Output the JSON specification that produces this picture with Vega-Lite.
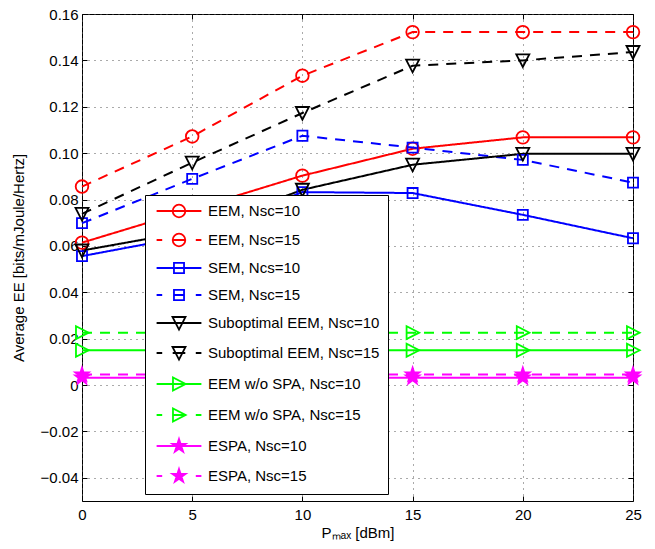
{
  "$schema": "https://vega.github.io/schema/vega-lite/v6.json",
  "autosize": "none",
  "width": 551,
  "height": 487,
  "padding": {"left": 82, "top": 14, "right": 22, "bottom": 48},
  "background": "#ffffff",
  "config": {
    "font": "Liberation Sans",
    "view": {"stroke": "#000000", "strokeWidth": 1},
    "axis": {
      "labelFont": "Liberation Sans",
      "labelFontSize": 15,
      "labelColor": "#000000",
      "labelFlush": false,
      "titleFont": "Liberation Sans",
      "titleFontSize": 15,
      "titleFontWeight": "normal",
      "titleColor": "#000000",
      "tickColor": "#000000",
      "tickSize": -5,
      "domain": false
    },
    "legend": {
      "orient": "none",
      "legendX": 63,
      "legendY": 181,
      "padding": 8,
      "strokeColor": "#000000",
      "fillColor": "#ffffff",
      "symbolSize": 196,
      "symbolStrokeWidth": 1.8,
      "symbolOffset": 18,
      "labelOffset": 21,
      "labelFont": "Liberation Sans",
      "labelFontSize": 15,
      "labelColor": "#000000",
      "labelLimit": 0,
      "rowPadding": 9,
      "symbolOpacity": 1
    }
  },
  "data": {
    "values": [
      {"P": 0, "EE": 0.0614, "s": "EEM, Nsc=10"},
      {"P": 5, "EE": 0.0758, "s": "EEM, Nsc=10"},
      {"P": 10, "EE": 0.0903, "s": "EEM, Nsc=10"},
      {"P": 15, "EE": 0.1019, "s": "EEM, Nsc=10"},
      {"P": 20, "EE": 0.1068, "s": "EEM, Nsc=10"},
      {"P": 25, "EE": 0.1068, "s": "EEM, Nsc=10"},
      {"P": 0, "EE": 0.0856, "s": "EEM, Nsc=15"},
      {"P": 5, "EE": 0.1072, "s": "EEM, Nsc=15"},
      {"P": 10, "EE": 0.1334, "s": "EEM, Nsc=15"},
      {"P": 15, "EE": 0.1522, "s": "EEM, Nsc=15"},
      {"P": 20, "EE": 0.1522, "s": "EEM, Nsc=15"},
      {"P": 25, "EE": 0.1522, "s": "EEM, Nsc=15"},
      {"P": 0, "EE": 0.0556, "s": "SEM, Ncs=10"},
      {"P": 5, "EE": 0.0645, "s": "SEM, Ncs=10"},
      {"P": 10, "EE": 0.0832, "s": "SEM, Ncs=10"},
      {"P": 15, "EE": 0.0828, "s": "SEM, Ncs=10"},
      {"P": 20, "EE": 0.0734, "s": "SEM, Ncs=10"},
      {"P": 25, "EE": 0.0633, "s": "SEM, Ncs=10"},
      {"P": 0, "EE": 0.0698, "s": "SEM, Nsc=15"},
      {"P": 5, "EE": 0.0889, "s": "SEM, Nsc=15"},
      {"P": 10, "EE": 0.1075, "s": "SEM, Nsc=15"},
      {"P": 15, "EE": 0.1024, "s": "SEM, Nsc=15"},
      {"P": 20, "EE": 0.0971, "s": "SEM, Nsc=15"},
      {"P": 25, "EE": 0.0873, "s": "SEM, Nsc=15"},
      {"P": 0, "EE": 0.0580, "s": "Suboptimal EEM, Nsc=10"},
      {"P": 5, "EE": 0.0665, "s": "Suboptimal EEM, Nsc=10"},
      {"P": 10, "EE": 0.0842, "s": "Suboptimal EEM, Nsc=10"},
      {"P": 15, "EE": 0.0950, "s": "Suboptimal EEM, Nsc=10"},
      {"P": 20, "EE": 0.0997, "s": "Suboptimal EEM, Nsc=10"},
      {"P": 25, "EE": 0.0997, "s": "Suboptimal EEM, Nsc=10"},
      {"P": 0, "EE": 0.0738, "s": "Suboptimal EEM, Nsc=15"},
      {"P": 5, "EE": 0.0959, "s": "Suboptimal EEM, Nsc=15"},
      {"P": 10, "EE": 0.1173, "s": "Suboptimal EEM, Nsc=15"},
      {"P": 15, "EE": 0.1377, "s": "Suboptimal EEM, Nsc=15"},
      {"P": 20, "EE": 0.1400, "s": "Suboptimal EEM, Nsc=15"},
      {"P": 25, "EE": 0.1436, "s": "Suboptimal EEM, Nsc=15"},
      {"P": 0, "EE": 0.0150, "s": "EEM w/o SPA, Nsc=10"},
      {"P": 5, "EE": 0.0150, "s": "EEM w/o SPA, Nsc=10"},
      {"P": 10, "EE": 0.0150, "s": "EEM w/o SPA, Nsc=10"},
      {"P": 15, "EE": 0.0150, "s": "EEM w/o SPA, Nsc=10"},
      {"P": 20, "EE": 0.0150, "s": "EEM w/o SPA, Nsc=10"},
      {"P": 25, "EE": 0.0150, "s": "EEM w/o SPA, Nsc=10"},
      {"P": 0, "EE": 0.0226, "s": "EEM w/o SPA, Nsc=15"},
      {"P": 5, "EE": 0.0226, "s": "EEM w/o SPA, Nsc=15"},
      {"P": 10, "EE": 0.0226, "s": "EEM w/o SPA, Nsc=15"},
      {"P": 15, "EE": 0.0226, "s": "EEM w/o SPA, Nsc=15"},
      {"P": 20, "EE": 0.0226, "s": "EEM w/o SPA, Nsc=15"},
      {"P": 25, "EE": 0.0226, "s": "EEM w/o SPA, Nsc=15"},
      {"P": 0, "EE": 0.0032, "s": "ESPA, Nsc=10"},
      {"P": 5, "EE": 0.0032, "s": "ESPA, Nsc=10"},
      {"P": 10, "EE": 0.0032, "s": "ESPA, Nsc=10"},
      {"P": 15, "EE": 0.0032, "s": "ESPA, Nsc=10"},
      {"P": 20, "EE": 0.0032, "s": "ESPA, Nsc=10"},
      {"P": 25, "EE": 0.0032, "s": "ESPA, Nsc=10"},
      {"P": 0, "EE": 0.0045, "s": "ESPA, Nsc=15"},
      {"P": 5, "EE": 0.0045, "s": "ESPA, Nsc=15"},
      {"P": 10, "EE": 0.0045, "s": "ESPA, Nsc=15"},
      {"P": 15, "EE": 0.0045, "s": "ESPA, Nsc=15"},
      {"P": 20, "EE": 0.0045, "s": "ESPA, Nsc=15"},
      {"P": 25, "EE": 0.0045, "s": "ESPA, Nsc=15"}
    ]
  },
  "layer": [
    {
      "mark": {"type": "line", "strokeWidth": 2},
      "encoding": {
        "x": {
          "field": "P", "type": "quantitative",
          "scale": {"domain": [0, 25], "nice": false, "zero": false},
          "axis": {
            "orient": "bottom",
            "values": [0, 5, 10, 15, 20, 25],
            "grid": true, "gridColor": "#555555", "gridDash": [1, 5], "gridWidth": 1,
            "labelPadding": 11,
            "title": "Pₘₐₓ [dBm]",
            "titlePadding": 3
          }
        },
        "y": {
          "field": "EE", "type": "quantitative",
          "scale": {"domain": [-0.05, 0.16], "nice": false, "zero": false},
          "axis": {
            "orient": "left",
            "values": [-0.04, -0.02, 0, 0.02, 0.04, 0.06, 0.08, 0.1, 0.12, 0.14, 0.16],
            "labelExpr": "datum.value == 0 ? '0' : format(datum.value, '.2f')",
            "grid": true, "gridColor": "#555555", "gridDash": [1, 5], "gridWidth": 1,
            "labelPadding": 9,
            "title": "Average EE [bits/mJoule/Hertz]",
            "titlePadding": 14
          }
        },
        "color": {
          "field": "s", "type": "nominal", "legend": null,
          "scale": {
            "domain": ["EEM, Nsc=10","EEM, Nsc=15","SEM, Ncs=10","SEM, Nsc=15","Suboptimal EEM, Nsc=10","Suboptimal EEM, Nsc=15","EEM w/o SPA, Nsc=10","EEM w/o SPA, Nsc=15","ESPA, Nsc=10","ESPA, Nsc=15"],
            "range": ["#ff0000","#ff0000","#0000ff","#0000ff","#000000","#000000","#00ff00","#00ff00","#ff00ff","#ff00ff"]
          }
        },
        "strokeDash": {
          "field": "s", "type": "nominal", "legend": null,
          "scale": {
            "domain": ["EEM, Nsc=10","EEM, Nsc=15","SEM, Ncs=10","SEM, Nsc=15","Suboptimal EEM, Nsc=10","Suboptimal EEM, Nsc=15","EEM w/o SPA, Nsc=10","EEM w/o SPA, Nsc=15","ESPA, Nsc=10","ESPA, Nsc=15"],
            "range": [[1,0],[10,8],[1,0],[10,8],[1,0],[10,8],[1,0],[10,8],[1,0],[10,8]]
          }
        }
      }
    },
    {
      "mark": {"type": "point", "filled": false, "size": 196, "strokeWidth": 1.8, "opacity": 1},
      "encoding": {
        "x": {"field": "P", "type": "quantitative", "axis": null},
        "y": {"field": "EE", "type": "quantitative", "axis": null},
        "color": {"field": "s", "type": "nominal", "legend": null},
        "fill": {
          "condition": {"test": "indexof(datum.s, 'ESPA') === 0", "value": "#ff00ff"},
          "value": "transparent"
        },
        "shape": {
          "field": "s", "type": "nominal", "legend": null,
          "scale": {
            "domain": ["EEM, Nsc=10","EEM, Nsc=15","SEM, Ncs=10","SEM, Nsc=15","Suboptimal EEM, Nsc=10","Suboptimal EEM, Nsc=15","EEM w/o SPA, Nsc=10","EEM w/o SPA, Nsc=15","ESPA, Nsc=10","ESPA, Nsc=15"],
            "range": [
              "M-0.9,0A0.9,0.9 0 1,0 0.9,0A0.9,0.9 0 1,0 -0.9,0Z",
              "M-0.9,0A0.9,0.9 0 1,0 0.9,0A0.9,0.9 0 1,0 -0.9,0Z",
              "M-0.72,-0.72H0.72V0.72H-0.72Z",
              "M-0.72,-0.72H0.72V0.72H-0.72Z",
              "M-0.93,-0.86H0.93L0,0.95Z",
              "M-0.93,-0.86H0.93L0,0.95Z",
              "M-0.86,-0.93V0.93L0.95,0Z",
              "M-0.86,-0.93V0.93L0.95,0Z",
              "M0,-1L0.2245,-0.309L0.951,-0.309L0.363,0.118L0.588,0.809L0,0.382L-0.588,0.809L-0.363,0.118L-0.951,-0.309L-0.2245,-0.309Z",
              "M0,-1L0.2245,-0.309L0.951,-0.309L0.363,0.118L0.588,0.809L0,0.382L-0.588,0.809L-0.363,0.118L-0.951,-0.309L-0.2245,-0.309Z"
            ]
          }
        }
      }
    },
    {
      "mark": {"type": "point", "filled": false, "size": 196, "strokeWidth": 1.8, "opacity": 0},
      "encoding": {
        "x": {
          "field": "P", "type": "quantitative",
          "axis": {"orient": "top", "values": [0, 5, 10, 15, 20, 25], "labels": false, "title": null, "grid": false}
        },
        "y": {
          "field": "EE", "type": "quantitative",
          "axis": {"orient": "right", "values": [-0.04, -0.02, 0, 0.02, 0.04, 0.06, 0.08, 0.1, 0.12, 0.14, 0.16], "labels": false, "title": null, "grid": false}
        },
        "color": {"field": "s", "type": "nominal", "legend": {"title": null}},
        "shape": {
          "field": "s", "type": "nominal",
          "legend": {"title": null},
          "scale": {
            "domain": ["EEM, Nsc=10","EEM, Nsc=15","SEM, Ncs=10","SEM, Nsc=15","Suboptimal EEM, Nsc=10","Suboptimal EEM, Nsc=15","EEM w/o SPA, Nsc=10","EEM w/o SPA, Nsc=15","ESPA, Nsc=10","ESPA, Nsc=15"],
            "range": [
              "M-3.2,0H3.2M-0.9,0A0.9,0.9 0 1,0 0.9,0A0.9,0.9 0 1,0 -0.9,0Z",
              "M-3.2,0H-2.4M-0.9,0H0.9M2.4,0H3.2M-0.9,0A0.9,0.9 0 1,0 0.9,0A0.9,0.9 0 1,0 -0.9,0Z",
              "M-3.2,0H3.2M-0.72,-0.72H0.72V0.72H-0.72Z",
              "M-3.2,0H-2.4M-0.72,0H0.72M2.4,0H3.2M-0.72,-0.72H0.72V0.72H-0.72Z",
              "M-3.2,0H3.2M-0.93,-0.86H0.93L0,0.95Z",
              "M-3.2,0H-2.4M-0.9,0H0.9M2.4,0H3.2M-0.93,-0.86H0.93L0,0.95Z",
              "M-3.2,0H3.2M-0.86,-0.93V0.93L0.95,0Z",
              "M-3.2,0H-2.4M-0.86,0H0.9M2.4,0H3.2M-0.86,-0.93V0.93L0.95,0Z",
              "M-3.2,0H3.2M0,-1L0.2245,-0.309L0.951,-0.309L0.363,0.118L0.588,0.809L0,0.382L-0.588,0.809L-0.363,0.118L-0.951,-0.309L-0.2245,-0.309ZM0,0L0,-1M0,0L0.951,-0.309M0,0L0.588,0.809M0,0L-0.588,0.809M0,0L-0.951,-0.309M0,0L0.2245,-0.309M0,0L0.363,0.118M0,0L0,0.382M0,0L-0.363,0.118M0,0L-0.2245,-0.309",
              "M-3.2,0H-2.4M2.4,0H3.2M0,-1L0.2245,-0.309L0.951,-0.309L0.363,0.118L0.588,0.809L0,0.382L-0.588,0.809L-0.363,0.118L-0.951,-0.309L-0.2245,-0.309ZM0,0L0,-1M0,0L0.951,-0.309M0,0L0.588,0.809M0,0L-0.588,0.809M0,0L-0.951,-0.309M0,0L0.2245,-0.309M0,0L0.363,0.118M0,0L0,0.382M0,0L-0.363,0.118M0,0L-0.2245,-0.309"
            ]
          }
        }
      }
    }
  ],
  "resolve": {
    "scale": {"shape": "independent"},
    "axis": {"x": "independent", "y": "independent"},
    "legend": {"color": "independent", "shape": "independent"}
  }
}
